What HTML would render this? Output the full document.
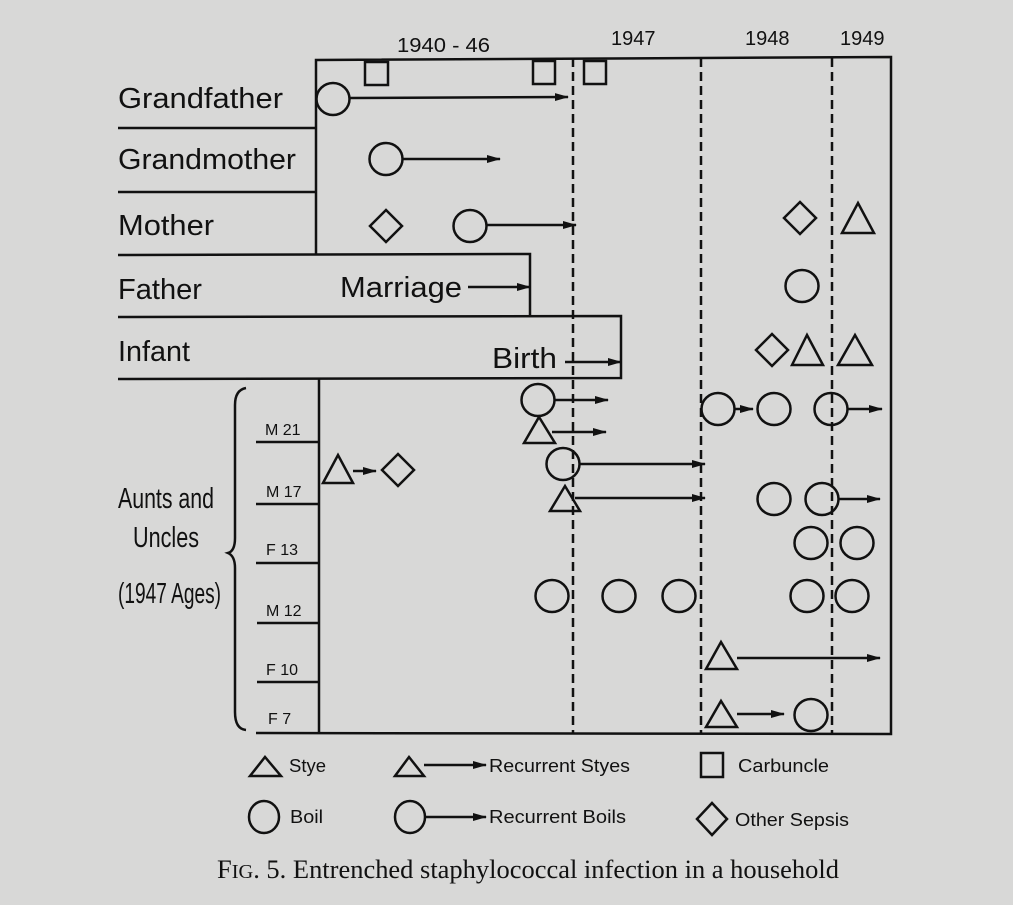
<!DOCTYPE html>
<html><head><meta charset="utf-8"><style>
html,body{margin:0;padding:0;background:#d8d8d7;}
svg{display:block;}
text{font-family:"Liberation Sans",sans-serif;fill:#111;}
</style></head><body>
<svg width="1013" height="905" viewBox="0 0 1013 905" xmlns="http://www.w3.org/2000/svg">
<defs>
<marker id="a" markerUnits="userSpaceOnUse" markerWidth="14" markerHeight="10" refX="13" refY="5" orient="auto"><path d="M0,1 L14,5 L0,9 Z" fill="#111"/></marker>
</defs>
<rect width="1013" height="905" fill="#d8d8d7"/>
<g stroke="#111" stroke-width="2.5" fill="none">
<path d="M316,255 L316,60 L891,57 L891,734 L256,733"/>
<line x1="118" y1="128" x2="316" y2="128"/>
<line x1="118" y1="192" x2="316" y2="192"/>
<path d="M118,255 L530,254 L530,316"/>
<path d="M118,317 L621,316 L621,378 L118,379"/>
<line x1="319" y1="379" x2="319" y2="733"/>
<line x1="256" y1="442" x2="319" y2="442"/>
<line x1="256" y1="504" x2="319" y2="504"/>
<line x1="256" y1="563" x2="319" y2="563"/>
<line x1="257" y1="623" x2="319" y2="623"/>
<line x1="257" y1="682" x2="319" y2="682"/>
<g stroke-dasharray="9,5">
<line x1="573" y1="58" x2="573" y2="733"/>
<line x1="701" y1="58" x2="701" y2="733"/>
<line x1="832" y1="58" x2="832" y2="733"/>
</g>
<path d="M246,388 Q235,390 235,405 L235,538 Q235,551 228,553 Q235,556 235,568 L235,712 Q235,729 246,730"/>
<rect x="365" y="62" width="23" height="23"/>
<rect x="533" y="61" width="22" height="23"/>
<rect x="584" y="61" width="22" height="23"/>
<ellipse cx="333" cy="99" rx="16.5" ry="16"/>
<line x1="349" y1="98" x2="568" y2="97" marker-end="url(#a)"/>
<ellipse cx="386" cy="159" rx="16.5" ry="16"/>
<line x1="402" y1="159" x2="500" y2="159" marker-end="url(#a)"/>
<path d="M386,210 L402,226 L386,242 L370,226 Z"/>
<ellipse cx="470" cy="226" rx="16.5" ry="16"/>
<line x1="486" y1="225" x2="576" y2="225" marker-end="url(#a)"/>
<line x1="468" y1="287" x2="530" y2="287" marker-end="url(#a)"/>
<line x1="565" y1="362" x2="621" y2="362" marker-end="url(#a)"/>
<path d="M800,202 L816,218 L800,234 L784,218 Z"/>
<path d="M842,233 L858,203 L874,233 Z"/>
<ellipse cx="802" cy="286" rx="16.5" ry="16"/>
<path d="M772,334 L788,350 L772,366 L756,350 Z"/>
<path d="M792,365 L807,335 L823,365 Z"/>
<path d="M838,365 L855,335 L872,365 Z"/>
<path d="M323,483 L338,455 L353,483 Z"/>
<line x1="353" y1="471" x2="376" y2="471" marker-end="url(#a)"/>
<path d="M398,454 L414,470 L398,486 L382,470 Z"/>
<ellipse cx="538" cy="400" rx="16.5" ry="16"/>
<line x1="554" y1="400" x2="608" y2="400" marker-end="url(#a)"/>
<path d="M524,443 L539,417 L555,443 Z"/>
<line x1="552" y1="432" x2="606" y2="432" marker-end="url(#a)"/>
<ellipse cx="563" cy="464" rx="16.5" ry="16"/>
<line x1="579" y1="464" x2="705" y2="464" marker-end="url(#a)"/>
<path d="M550,511 L565,486 L580,511 Z"/>
<line x1="575" y1="498" x2="705" y2="498" marker-end="url(#a)"/>
<ellipse cx="552" cy="596" rx="16.5" ry="16"/>
<ellipse cx="619" cy="596" rx="16.5" ry="16"/>
<ellipse cx="679" cy="596" rx="16.5" ry="16"/>
<ellipse cx="807" cy="596" rx="16.5" ry="16"/>
<ellipse cx="852" cy="596" rx="16.5" ry="16"/>
<ellipse cx="718" cy="409" rx="16.5" ry="16"/>
<line x1="734" y1="409" x2="753" y2="409" marker-end="url(#a)"/>
<ellipse cx="774" cy="409" rx="16.5" ry="16"/>
<ellipse cx="831" cy="409" rx="16.5" ry="16"/>
<line x1="847" y1="409" x2="882" y2="409" marker-end="url(#a)"/>
<ellipse cx="774" cy="499" rx="16.5" ry="16"/>
<ellipse cx="822" cy="499" rx="16.5" ry="16"/>
<line x1="838" y1="499" x2="880" y2="499" marker-end="url(#a)"/>
<ellipse cx="811" cy="543" rx="16.5" ry="16"/>
<ellipse cx="857" cy="543" rx="16.5" ry="16"/>
<path d="M706,669 L721,642 L737,669 Z"/>
<line x1="737" y1="658" x2="880" y2="658" marker-end="url(#a)"/>
<path d="M706,727 L721,701 L737,727 Z"/>
<line x1="737" y1="714" x2="784" y2="714" marker-end="url(#a)"/>
<ellipse cx="811" cy="715" rx="16.5" ry="16"/>
<path d="M250,776 L265,757 L281,776 Z"/>
<path d="M395,776 L409,757 L424,776 Z"/>
<line x1="424" y1="765" x2="486" y2="765" marker-end="url(#a)"/>
<rect x="701" y="753" width="22" height="24"/>
<ellipse cx="264" cy="817" rx="15" ry="16"/>
<ellipse cx="410" cy="817" rx="15" ry="16"/>
<line x1="425" y1="817" x2="486" y2="817" marker-end="url(#a)"/>
<path d="M712,803 L727,819 L712,835 L697,819 Z"/>
</g>
<g font-size="20"><text x="397" y="52" textLength="93" lengthAdjust="spacingAndGlyphs">1940 - 46</text>
<text x="611" y="45">1947</text><text x="745" y="45">1948</text><text x="840" y="45">1949</text></g>
<g font-size="29">
<text x="118" y="108" textLength="165" lengthAdjust="spacingAndGlyphs">Grandfather</text>
<text x="118" y="169" textLength="178" lengthAdjust="spacingAndGlyphs">Grandmother</text>
<text x="118" y="235" textLength="96" lengthAdjust="spacingAndGlyphs">Mother</text>
<text x="118" y="299" textLength="84" lengthAdjust="spacingAndGlyphs">Father</text>
<text x="340" y="297" textLength="122" lengthAdjust="spacingAndGlyphs">Marriage</text>
<text x="118" y="361" textLength="72" lengthAdjust="spacingAndGlyphs">Infant</text>
<text x="492" y="368" textLength="65" lengthAdjust="spacingAndGlyphs">Birth</text>
<text x="118" y="508" textLength="96" lengthAdjust="spacingAndGlyphs">Aunts and</text>
<text x="133" y="547" textLength="66" lengthAdjust="spacingAndGlyphs">Uncles</text>
<text x="118" y="603" textLength="103" lengthAdjust="spacingAndGlyphs">(1947 Ages)</text>
</g>
<g font-size="16">
<text x="265" y="435">M 21</text><text x="266" y="497">M 17</text>
<text x="266" y="555">F  13</text><text x="266" y="616">M 12</text>
<text x="266" y="675">F  10</text><text x="268" y="724">F  7</text>
</g>
<g font-size="18">
<text x="289" y="772" textLength="37" lengthAdjust="spacingAndGlyphs">Stye</text>
<text x="489" y="772" textLength="141" lengthAdjust="spacingAndGlyphs">Recurrent Styes</text>
<text x="738" y="772" textLength="91" lengthAdjust="spacingAndGlyphs">Carbuncle</text>
<text x="290" y="823" textLength="33" lengthAdjust="spacingAndGlyphs">Boil</text>
<text x="489" y="823" textLength="137" lengthAdjust="spacingAndGlyphs">Recurrent Boils</text>
<text x="735" y="826" textLength="114" lengthAdjust="spacingAndGlyphs">Other Sepsis</text>
</g>
<text x="217" y="878" font-size="26" textLength="622" lengthAdjust="spacingAndGlyphs" style="font-family:'Liberation Serif',serif">F<tspan font-size="20">IG</tspan>. 5.  Entrenched staphylococcal infection in a household</text>
</svg>
</body></html>
